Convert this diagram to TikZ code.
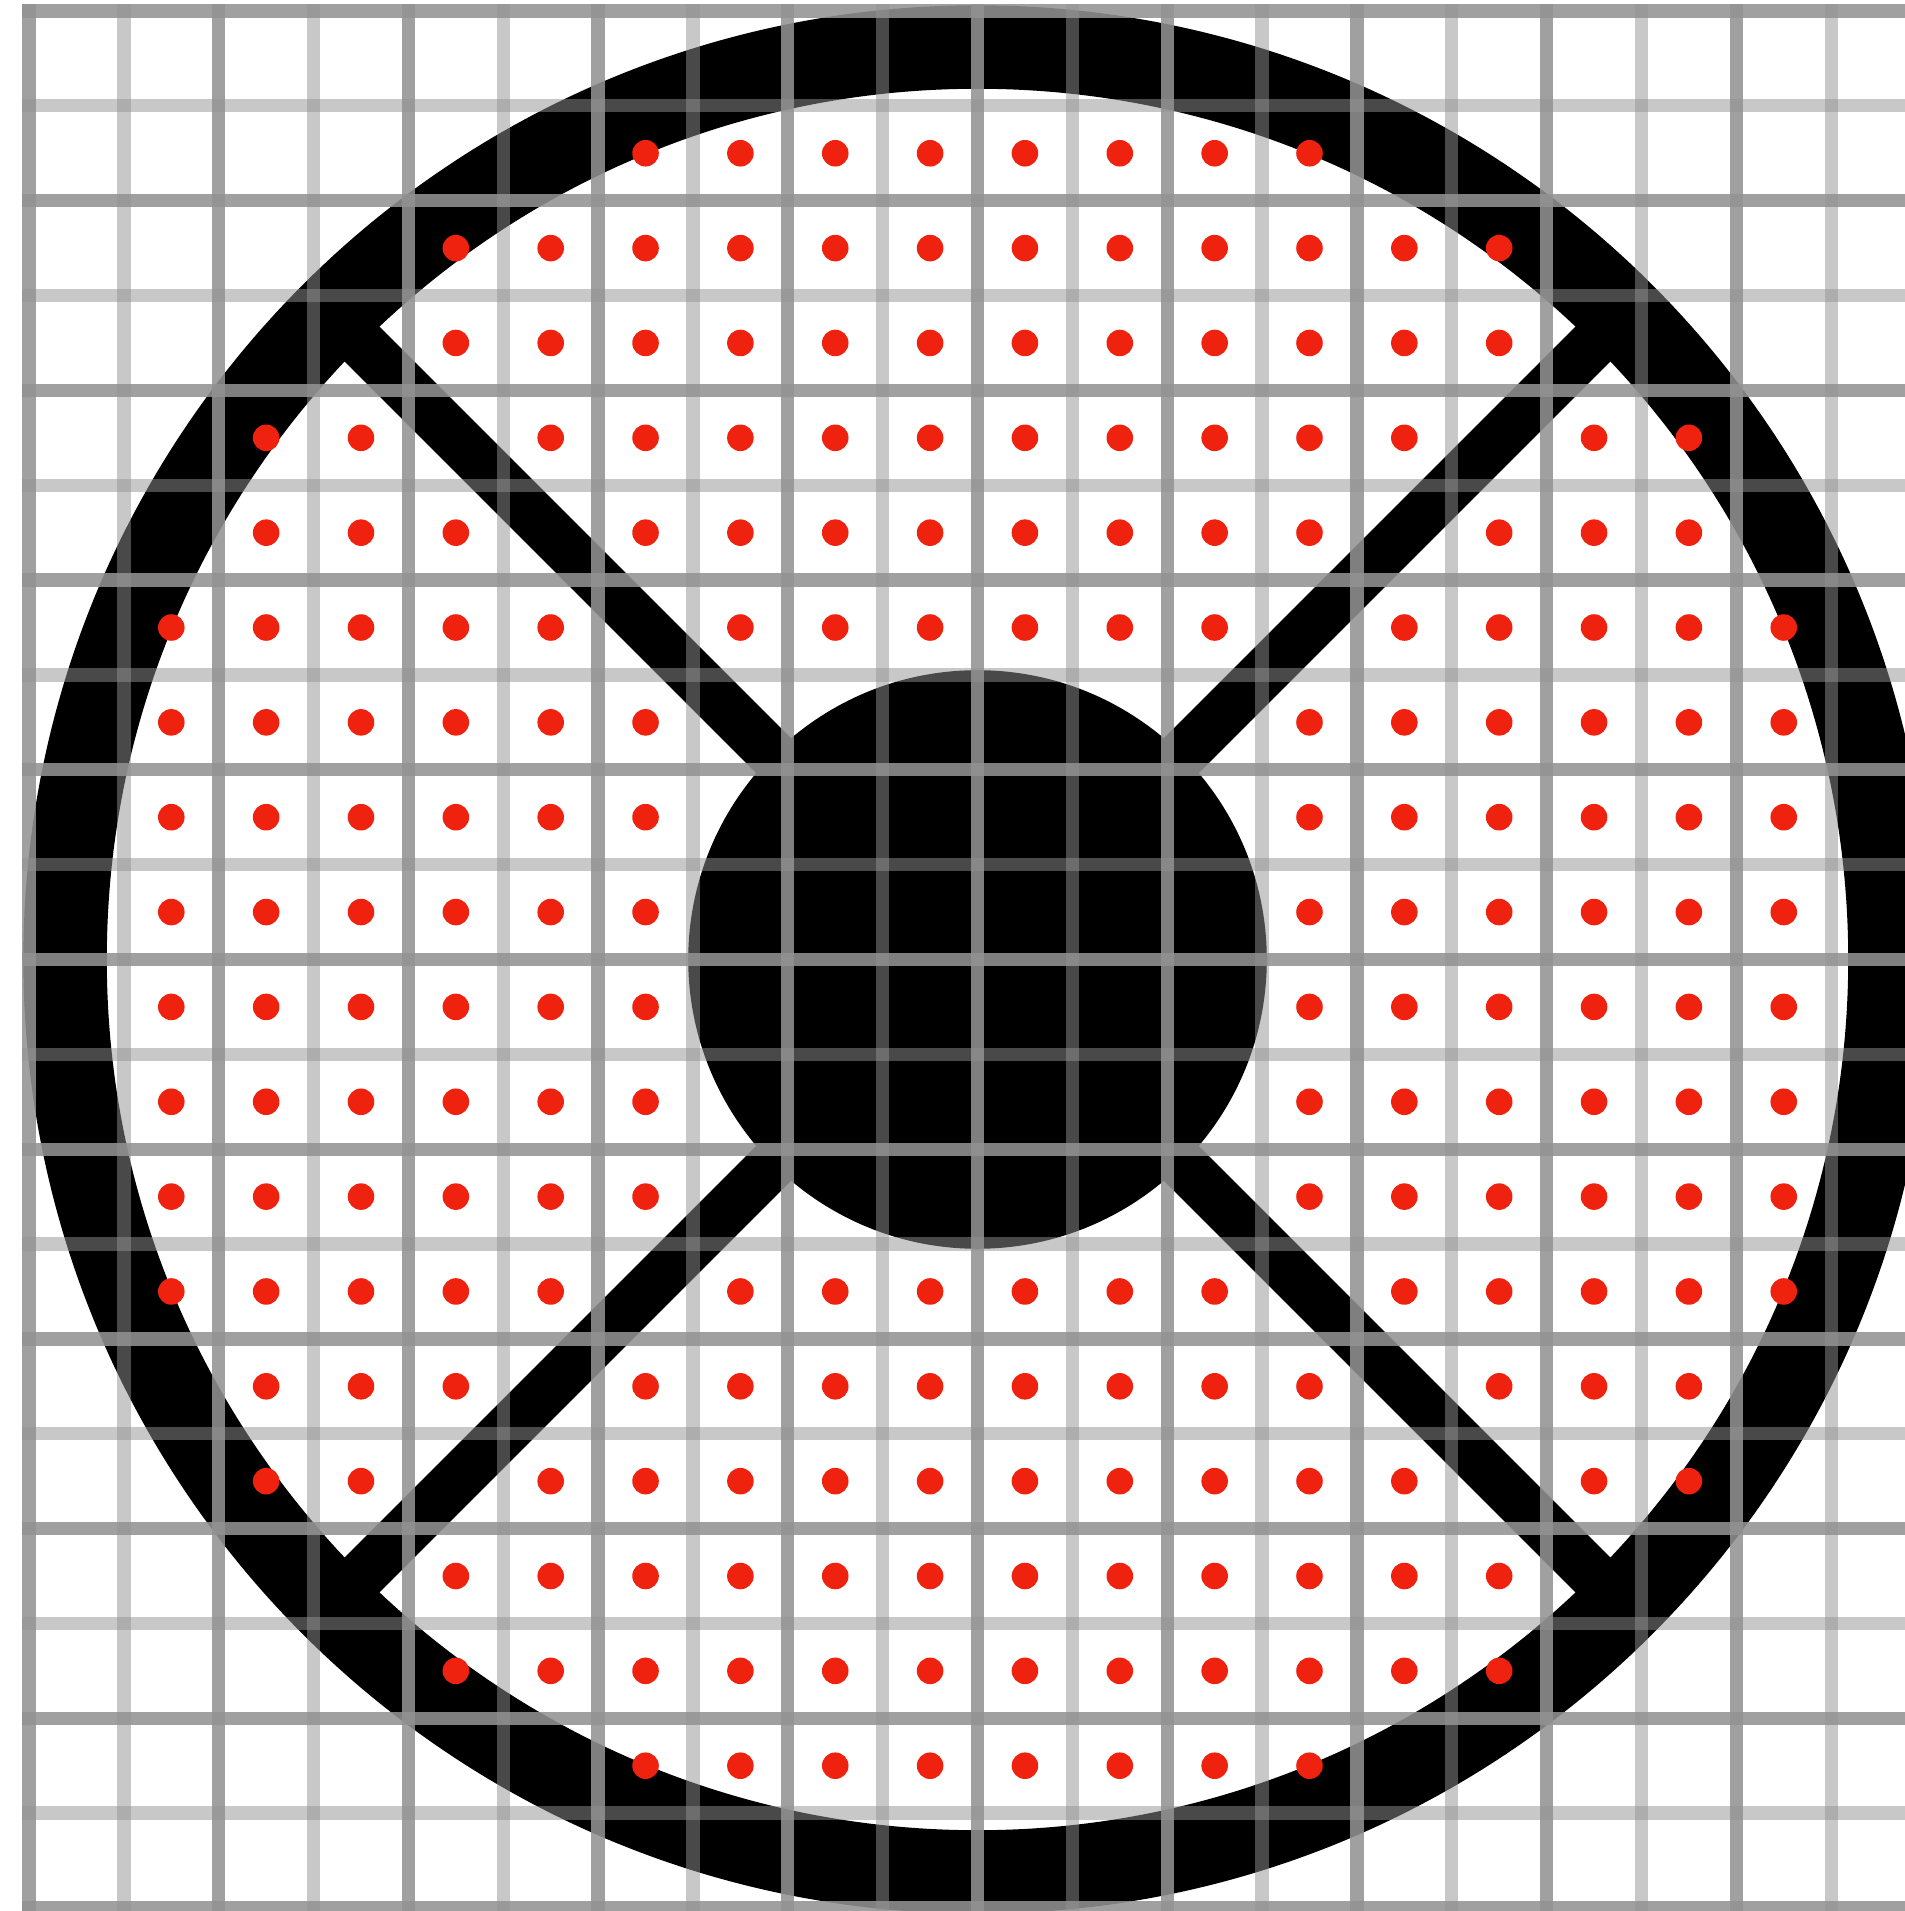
\documentclass[tikz,border=0pt]{standalone}
\definecolor{gridgray}{RGB}{146,146,146}
\definecolor{dotred}{RGB}{238,34,14}
\begin{document}
\begin{tikzpicture}[y=-1cm,
		minorline/.style={draw=gridgray, draw opacity=0.5, line width=0.14cm, line cap=rect},
		majorline/.style={draw=gridgray, draw opacity=0.75, line width=0.14cm, line cap=rect},
		reddot/.style={fill=dotred}]
	\useasboundingbox (-0.306,-0.116) rectangle (19.778,20.032);
	\clip (-0.306,-0.116) rectangle (19.778,20.032);
	% ring, hub and struts
	\fill[even odd rule] (10,10) circle (10.06) (10,10) circle (9.18);
	\fill (10,10) circle (3.05);
	\draw[line width=0.52cm] (3.21,3.21)--(16.79,16.79);
	\draw[line width=0.52cm] (16.79,3.21)--(3.21,16.79);
	% grid
	\foreach \i in {0,...,20} {
		\draw[minorline] (\i,0)--(\i,20);
		\draw[minorline] (0,\i)--(20,\i);
	}
	\foreach \i in {0,2,...,20} {
		\draw[majorline] (\i,0)--(\i,20);
		\draw[majorline] (0,\i)--(20,\i);
	}
	% sample points
	\foreach \r/\cols in {1/{6,...,13}, 2/{4,...,15}, 3/{4,...,15},
			4/{2,3,5,6,7,8,9,10,11,12,13,14,16,17},
			5/{2,3,4,6,7,8,9,10,11,12,13,15,16,17},
			6/{1,2,3,4,5,7,8,9,10,11,12,14,15,16,17,18},
			7/{1,2,3,4,5,6,13,14,15,16,17,18}, 8/{1,2,3,4,5,6,13,14,15,16,17,18},
			9/{1,2,3,4,5,6,13,14,15,16,17,18}, 10/{1,2,3,4,5,6,13,14,15,16,17,18},
			11/{1,2,3,4,5,6,13,14,15,16,17,18}, 12/{1,2,3,4,5,6,13,14,15,16,17,18},
			13/{1,2,3,4,5,7,8,9,10,11,12,14,15,16,17,18},
			14/{2,3,4,6,7,8,9,10,11,12,13,15,16,17},
			15/{2,3,5,6,7,8,9,10,11,12,13,14,16,17},
			16/{4,...,15}, 17/{4,...,15}, 18/{6,...,13}} {
		\foreach \c in \cols
			\fill[reddot] (\c+0.5,\r+0.5) circle (0.14);
	}
\end{tikzpicture}
\end{document}
